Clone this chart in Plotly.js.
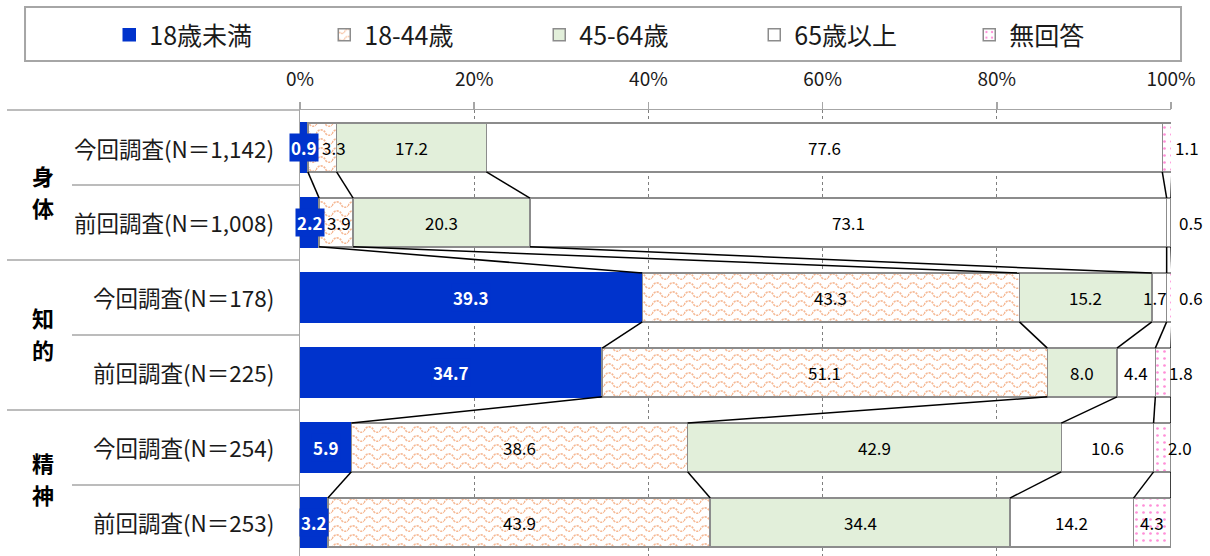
<!DOCTYPE html>
<html>
<head>
<meta charset="utf-8">
<script src="https://cdn.plot.ly/plotly-3.0.1.min.js"></script>
<style>
html,body{margin:0;padding:0;background:#ffffff;}
#chart{width:1210px;height:556px;}
</style>
</head>
<body>
<div id="chart"></div>
<script>
// ---------------- data ----------------
const rowLabels = ['今回調査(N＝1,142)', '前回調査(N＝1,008)', '今回調査(N＝178)', '前回調査(N＝225)', '今回調査(N＝254)', '前回調査(N＝253)'];
const groupLabels = ['身体', '知的', '精神'];
const seriesNames = ['18歳未満', '18-44歳', '45-64歳', '65歳以上', '無回答'];
const under18   = [0.9, 2.2, 39.3, 34.7, 5.9, 3.2];
const age18to44 = [3.3, 3.9, 43.3, 51.1, 38.6, 43.9];
const age45to64 = [17.2, 20.3, 15.2, 8.0, 42.9, 34.4];
const age65plus = [77.6, 73.1, 1.7, 4.4, 10.6, 14.2];
const noAnswer  = [1.1, 0.5, 0.6, 1.8, 2.0, 4.3];
const xTickVals = [0, 20, 40, 60, 80, 100];
const xTickText = ['0%', '20%', '40%', '60%', '80%', '100%'];

// ---------------- style / layout settings ----------------
const FONT = '"Noto Sans CJK JP", "Noto Sans", sans-serif';
const BAR_W = 0.65;
const GRAY = '#8C8C8C';
const BLUE = '#0033CC';
const ORANGE = '#F4B084';
const GREEN = '#E2EFDA';
const PINK = '#FF8FD8';
const groupLabelPos = [0.58, 2.47, 4.41];          // vertical centre of group captions (row units)
const labelDxBySeries = [                           // pixel nudges of value labels
  [0, 0, 0, 0, 0, 0],
  [12, 3, 0, 0, 0, 0],
  [0, 0, 0, 0, 0, 0],
  [0, 0, -4, 0, 0, 0],
  [16, 20, 20, 10, 9, 0]
];

const series = [under18, age18to44, age45to64, age65plus, noAnswer];
const rows = rowLabels.map((_, i) => i);

const fills = [
  {color: BLUE, line: {color: BLUE, width: 1.5}},
  {color: '#FFFFFF', line: {color: GRAY, width: 1.5}, pattern: {shape: '-', fgcolor: ORANGE, bgcolor: '#FFFFFF', size: 9, solidity: 0.2, fillmode: 'replace'}},
  {color: GREEN, line: {color: GRAY, width: 1.5}},
  {color: '#FFFFFF', line: {color: GRAY, width: 1.5}},
  {color: '#FFFFFF', line: {color: GRAY, width: 1.5}, pattern: {shape: '.', fgcolor: PINK, bgcolor: '#FFFFFF', size: 7, solidity: 0.12, fillmode: 'replace'}}
];

const traces = series.map((vals, s) => ({
  type: 'bar',
  orientation: 'h',
  name: seriesNames[s],
  x: vals,
  y: rows,
  width: BAR_W,
  marker: fills[s],
  hoverinfo: 'skip'
}));

// cumulative boundaries for series lines and labels
const cum = rows.map(r => {
  let acc = 0;
  return series.map(v => { acc += v[r]; return acc; });
});

const lx = [], ly = [];
for (let r = 0; r < rows.length - 1; r++) {
  for (let s = 0; s < series.length; s++) {
    lx.push(cum[r][s], cum[r + 1][s], null);
    ly.push(r + BAR_W / 2, r + 1 - BAR_W / 2, null);
  }
}
traces.push({
  type: 'scatter', mode: 'lines', x: lx, y: ly, showlegend: false,
  line: {color: '#000000', width: 1.5}, hoverinfo: 'skip', cliponaxis: false
});

const annotations = [];
// value labels
rows.forEach(r => {
  series.forEach((vals, s) => {
    const start = s === 0 ? 0 : cum[r][s - 1];
    const v = vals[r];
    const isBlue = s === 0;
    let x = start + v / 2;
    if (s === 4 && v < 3) x = cum[r][s] > 100 ? 100 : cum[r][s];
    annotations.push({
      x: x, y: r, xref: 'x', yref: 'y',
      text: isBlue ? '<b>' + v.toFixed(1) + '</b>' : v.toFixed(1),
      showarrow: false,
      xshift: labelDxBySeries[s][r],
      font: {family: FONT, size: 17, color: isBlue ? '#FFFFFF' : '#000000'},
      bgcolor: isBlue ? BLUE : 'rgba(0,0,0,0)',
      borderpad: 1
    });
  });
});
// row labels
rowLabels.forEach((t, r) => {
  annotations.push({
    x: -0.0276, y: r, xref: 'paper', yref: 'y', xanchor: 'right',
    text: t, showarrow: false,
    font: {family: FONT, size: 22.5, color: '#1A1A1A'}
  });
});
// group captions (vertical, one character per annotation)
groupLabels.forEach((g, i) => {
  Array.from(g).forEach((c, k) => {
    annotations.push({
      x: -0.31, y: groupLabelPos[i], xref: 'paper', yref: 'y',
      text: '<b>' + c + '</b>', showarrow: false,
      yshift: k === 0 ? 16 : -16,
      font: {family: FONT, size: 22, color: '#000000'}
    });
  });
});

const shapes = [];
// separators on the left
for (let r = 0; r < rows.length - 1; r++) {
  const long = (r % 2 === 1);
  shapes.push({
    type: 'line', xref: 'paper', yref: 'y',
    x0: long ? -0.3364 : -0.2618, x1: 0, y0: r + 0.5, y1: r + 0.5,
    line: {color: '#A6A6A6', width: 1.5}
  });
}
shapes.push({
  type: 'line', xref: 'paper', yref: 'paper', x0: -0.3364, x1: 0, y0: 1, y1: 1,
  line: {color: '#A6A6A6', width: 1.5}
});
// legend frame
shapes.push({
  type: 'rect', xref: 'paper', yref: 'paper',
  x0: -0.3157, x1: 1.0115, y0: 1.1099, y1: 1.2309,
  line: {color: '#A6A6A6', width: 2}, fillcolor: 'rgba(0,0,0,0)'
});

const layout = {
  width: 1210, height: 556,
  margin: {l: 300, r: 39, t: 110, b: 0, pad: 0, autoexpand: false},
  paper_bgcolor: '#FFFFFF', plot_bgcolor: '#FFFFFF',
  font: {family: FONT, color: '#1A1A1A'},
  barmode: 'stack',
  bargap: 0,
  showlegend: true,
  legend: {
    orientation: 'h', xref: 'paper', yref: 'paper',
    x: -0.219, xanchor: 'left', y: 1.168, yanchor: 'middle',
    font: {family: FONT, size: 25, color: '#1A1A1A'},
    entrywidth: 170, entrywidthmode: 'pixels',
    traceorder: 'normal', bgcolor: 'rgba(0,0,0,0)', borderwidth: 0
  },
  xaxis: {
    side: 'top', range: [0, 100], tickmode: 'array', tickvals: xTickVals, ticktext: xTickText,
    ticks: 'outside', ticklen: 7, tickwidth: 1.5, tickcolor: '#A6A6A6',
    showline: true, linecolor: '#A6A6A6', linewidth: 1.5,
    showgrid: true, gridcolor: '#7F7F7F', griddash: 'dot', gridwidth: 1,
    zeroline: false, tickfont: {family: FONT, size: 19, color: '#1A1A1A'},
    ticklabelstandoff: 8, fixedrange: true
  },
  yaxis: {
    range: [5.447, -0.5], showticklabels: false, ticks: '', showgrid: false,
    zeroline: false, showline: true, linecolor: '#A6A6A6', linewidth: 1.5, fixedrange: true
  },
  annotations: annotations,
  shapes: shapes
};

function wavePatterns(gd) {
  const NS = 'http://www.w3.org/2000/svg';
  const pats = document.querySelectorAll('pattern');
  pats.forEach(p => {
    const h = p.outerHTML.toLowerCase();
    if (h.indexOf('244, 176, 132') < 0 && h.indexOf('f4b084') < 0) return;
    while (p.firstChild) p.removeChild(p.firstChild);
    p.setAttribute('width', 16);
    p.setAttribute('height', 9);
    p.setAttribute('patternUnits', 'userSpaceOnUse');
    const bg = document.createElementNS(NS, 'rect');
    bg.setAttribute('width', 16); bg.setAttribute('height', 9); bg.setAttribute('fill', '#FFFFFF');
    p.appendChild(bg);
    const path = document.createElementNS(NS, 'path');
    path.setAttribute('d', 'M0,6 C2,0.5 8,0.5 10,6 Q13,8.5 16,6');
    path.setAttribute('fill', 'none');
    path.setAttribute('stroke', '#F6B995');
    path.setAttribute('stroke-width', '1.6');
    path.setAttribute('stroke-dasharray', '2.2 1');
    p.appendChild(path);
  });
}

Plotly.newPlot('chart', traces, layout, {staticPlot: true, displayModeBar: false}).then(gd => {
  try { wavePatterns(gd); } catch (e) {}
});
</script>
</body>
</html>
